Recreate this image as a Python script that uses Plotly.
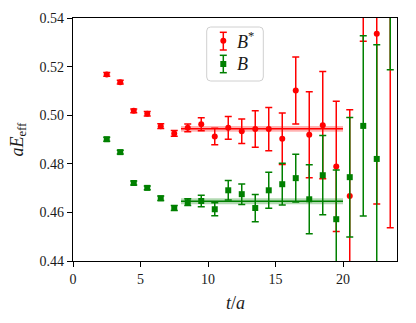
import plotly.graph_objects as go

# ---- data ----
t = [2.5, 3.5, 4.5, 5.5, 6.5, 7.5, 8.5, 9.5, 10.5, 11.5, 12.5, 13.5, 14.5, 15.5,
     16.5, 17.5, 18.5, 19.5, 20.5, 21.5, 22.5, 23.5]

bstar_val = [0.5168, 0.5136, 0.5018, 0.5006, 0.4955, 0.4925, 0.4948, 0.4963, 0.4912,
             0.4948, 0.4934, 0.4943, 0.4943, 0.4903, 0.5102, 0.4920, 0.4959, 0.4789,
             0.4668, 0.5700, 0.5335, 0.5600]
bstar_err = [0.0008, 0.0008, 0.0008, 0.0009, 0.0010, 0.0012, 0.0016, 0.0027, 0.0034,
             0.0047, 0.0050, 0.0075, 0.0089, 0.0106, 0.0138, 0.0177, 0.0221, 0.0268,
             0.0354, 0.0396, 0.0700, 0.1063]

b_val = [0.4901, 0.4848, 0.4721, 0.4701, 0.4658, 0.4618, 0.4642, 0.4647, 0.4613,
         0.4691, 0.4675, 0.4618, 0.4691, 0.4716, 0.4741, 0.4654, 0.4753, 0.4572,
         0.4745, 0.4956, 0.4820, 0.5600]
b_err = [0.0008, 0.0008, 0.0008, 0.0008, 0.0009, 0.0010, 0.0014, 0.0024, 0.0027,
         0.0040, 0.0042, 0.0056, 0.0074, 0.0086, 0.0098, 0.0142, 0.0163, 0.0203,
         0.0246, 0.0371, 0.0470, 0.0413]

fit_range = [8.0, 20.0]
bstar_fit, bstar_fit_err = 0.4944, 0.0012
b_fit, b_fit_err = 0.4646, 0.0012

legend_labels = ["<i>B</i><sup>*</sup>", "<i>B</i>"]
x_ticks = [0, 5, 10, 15, 20]
y_ticks = [0.44, 0.46, 0.48, 0.50, 0.52, 0.54]

RED = "#ff0000"
GREEN = "#008000"
FONT = "Liberation Serif"
TXT = "#1a1a1a"

fig = go.Figure()


def band(center, err, color, fill):
    fig.add_trace(go.Scatter(x=fit_range, y=[center + err] * 2, mode="lines",
                             line=dict(width=0), showlegend=False, hoverinfo="skip"))
    fig.add_trace(go.Scatter(x=fit_range, y=[center - err] * 2, mode="lines",
                             line=dict(width=0), fill="tonexty", fillcolor=fill,
                             showlegend=False, hoverinfo="skip"))
    fig.add_trace(go.Scatter(x=fit_range, y=[center] * 2, mode="lines",
                             line=dict(color=color, width=1.5), showlegend=False,
                             hoverinfo="skip"))


band(bstar_fit, bstar_fit_err, RED, "rgba(255,0,0,0.3)")
fig.add_trace(go.Scatter(
    x=t, y=bstar_val, mode="markers", name=legend_labels[0], showlegend=False,
    marker=dict(color=RED, size=6, symbol="circle"),
    error_y=dict(type="data", array=bstar_err, color=RED, thickness=1.5, width=3.5),
))
band(b_fit, b_fit_err, GREEN, "rgba(0,128,0,0.3)")
fig.add_trace(go.Scatter(
    x=t, y=b_val, mode="markers", name=legend_labels[1], showlegend=False,
    marker=dict(color=GREEN, size=6, symbol="square"),
    error_y=dict(type="data", array=b_err, color=GREEN, thickness=1.5, width=3.5),
))

axis_common = dict(showline=True, linecolor="black", linewidth=1.2, mirror=True,
                   ticks="outside", ticklen=5, tickwidth=1.2, tickcolor="black",
                   showgrid=False, zeroline=False, automargin=False,
                   tickfont=dict(family=FONT, size=14, color=TXT))

fig.update_xaxes(range=[0, 24], tickvals=x_ticks, **axis_common)
fig.update_yaxes(range=[0.44, 0.54], tickvals=y_ticks, tickformat=".2f", **axis_common)

# plot area in pixels (for paper-coordinate placement of legend / titles)
PW, PH = 324.0, 243.0


def px(dx):
    return dx / PW


def py(dy):
    return dy / PH


shapes = []
annotations = []

# axis titles
annotations.append(dict(text="<i>t</i>/<i>a</i>", xref="paper", yref="paper", x=0.5,
                        y=-py(42), xanchor="center", yanchor="middle", showarrow=False,
                        font=dict(family=FONT, size=18, color=TXT)))
annotations.append(dict(text="<i>aE</i><sub>eff</sub>", xref="paper", yref="paper",
                        x=-px(55), y=0.5, xanchor="center", yanchor="middle",
                        textangle=-90, showarrow=False,
                        font=dict(family=FONT, size=18, color=TXT)))

# legend box (rounded)
x0, x1 = px(206.7 - 73), px(263.3 - 73)
y1, y0 = 1 - py(27 - 18), 1 - py(81 - 18)
rx, ry = px(4), py(4)
path = (f"M{x0+rx},{y1} L{x1-rx},{y1} Q{x1},{y1} {x1},{y1-ry} "
        f"L{x1},{y0+ry} Q{x1},{y0} {x1-rx},{y0} L{x0+rx},{y0} Q{x0},{y0} {x0},{y0+ry} "
        f"L{x0},{y1-ry} Q{x0},{y1} {x0+rx},{y1} Z")
shapes.append(dict(type="path", path=path, xref="paper", yref="paper", layer="above",
                   fillcolor="rgba(255,255,255,0.8)", line=dict(color="#d0d0d0", width=1)))

# legend glyphs: errorbar + marker
gx = px(223.3 - 73)
cap = px(3.5)
entries = [(RED, "circle", 32.3, 40.7, 50.0), (GREEN, "rect", 55.3, 64.0, 72.7)]
for (col, sym, top, mid, bot), lab in zip(entries, legend_labels):
    yt, ym, yb = 1 - py(top - 18), 1 - py(mid - 18), 1 - py(bot - 18)
    shapes.append(dict(type="line", xref="paper", yref="paper", layer="above",
                       x0=gx, x1=gx, y0=yb, y1=yt, line=dict(color=col, width=1.5)))
    for yy in (yt, yb):
        shapes.append(dict(type="line", xref="paper", yref="paper", layer="above",
                           x0=gx - cap, x1=gx + cap, y0=yy, y1=yy,
                           line=dict(color=col, width=1.5)))
    shapes.append(dict(type=sym, xref="paper", yref="paper", layer="above",
                       x0=gx - px(3), x1=gx + px(3), y0=ym - py(3), y1=ym + py(3),
                       fillcolor=col, line=dict(color=col, width=0)))
    annotations.append(dict(text=lab, xref="paper", yref="paper", x=px(235 - 73), y=ym,
                            xanchor="left", yanchor="middle", showarrow=False,
                            font=dict(family=FONT, size=18, color=TXT)))

fig.update_layout(
    width=408, height=315,
    margin=dict(l=65, r=19, t=10, b=62),
    plot_bgcolor="white", paper_bgcolor="white",
    showlegend=False,
    shapes=shapes, annotations=annotations,
)

fig.write_html("out.html")
